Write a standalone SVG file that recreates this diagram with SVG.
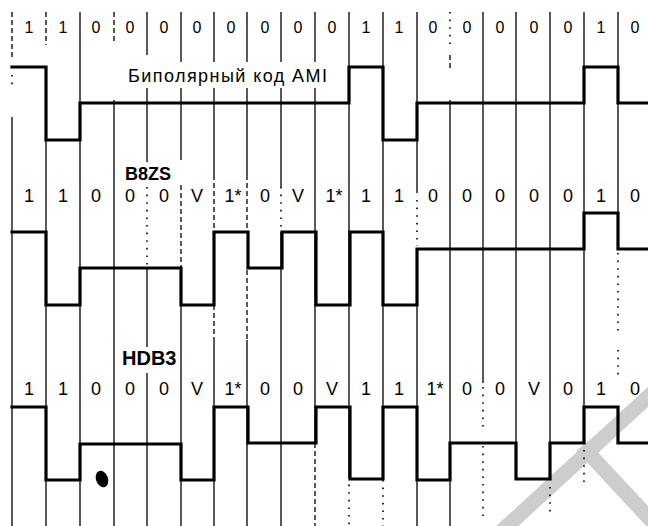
<svg xmlns="http://www.w3.org/2000/svg" width="648" height="526" viewBox="0 0 648 526">
<style>
.g{stroke:#000;stroke-width:1.3;fill:none}
.d{stroke:#000;stroke-width:1.3;fill:none;stroke-dasharray:5 3}
.o{stroke:#000;stroke-width:1.6;fill:none;stroke-dasharray:1.6 6}
.w{stroke:#000;stroke-width:3.2;fill:none;stroke-linejoin:miter;stroke-linecap:square}
.t{font-family:"Liberation Sans",Arial,sans-serif;fill:#000;text-anchor:middle}
.r0{font-size:16px}
.r1{font-size:18px}
.lab{font-family:"Liberation Sans",Arial,sans-serif;fill:#000}
</style>
<rect width="648" height="526" fill="#fff"/>
<g id="watermark" stroke="#cdcdcd" stroke-width="15" fill="none">
<line x1="492" y1="540" x2="662" y2="384"/>
<line x1="582" y1="446" x2="662" y2="532"/>
</g>
<g id="grid">
<path class="g" d="M12,117V526 M46,66V526 M80,12V526 M114,100V526 M147,12V55 M147,88V162 M147,268V347 M147,373V526 M181,12V62 M181,88V160 M181,268V526 M214,12V62 M214,88V180 M214,232V305 M214,340V526 M247,12V62 M247,88V180 M247,340V526 M281,12V62 M281,88V187 M281,232V526 M315,12V62 M315,88V443 M349,12V477 M383,12V480 M417,12V193 M417,249V526 M450,100V526 M483,12V383 M516,12V480 M550,12V480 M584,12V443 M618,12V249"/>
<path class="d" d="M12,12V60 M46,12V45 M114,12V43 M181,185V268 M214,183V228 M214,305V340 M247,183V232 M247,270V340 M315,443V526 M450,55V70"/>
<path class="o" d="M12,75V86 M147,187V265 M281,187V232 M417,200V246 M349,477V526 M383,480V526 M450,12V45 M483,387V427 M483,446V520 M550,487V512 M584,450V488 M618,253V333 M618,350V377"/>
</g>
<g id="bits" class="t">
<g class="r0">
<text x="29" y="33">1</text><text x="63" y="33">1</text><text x="96" y="33">0</text><text x="130" y="33">0</text><text x="164" y="33">0</text><text x="197" y="33">0</text><text x="231" y="33">0</text><text x="265" y="33">0</text><text x="298" y="33">0</text><text x="332" y="33">0</text><text x="366" y="33">1</text><text x="399" y="33">1</text><text x="433" y="33">0</text><text x="467" y="33">0</text><text x="500" y="33">0</text><text x="534" y="33">0</text><text x="568" y="33">0</text><text x="601" y="33">1</text><text x="635" y="33">0</text>
</g>
<g class="r1">
<text x="29" y="202">1</text><text x="63" y="202">1</text><text x="96" y="202">0</text><text x="130" y="202">0</text><text x="164" y="202">0</text><text x="197" y="202">V</text><text x="233" y="202">1*</text><text x="265" y="202">0</text><text x="298" y="202">V</text><text x="334" y="202">1*</text><text x="366" y="202">1</text><text x="399" y="202">1</text><text x="433" y="202">0</text><text x="467" y="202">0</text><text x="500" y="202">0</text><text x="534" y="202">0</text><text x="568" y="202">0</text><text x="601" y="202">1</text><text x="635" y="202">0</text>
</g>
<g class="r1">
<text x="29" y="395">1</text><text x="63" y="395">1</text><text x="96" y="395">0</text><text x="130" y="395">0</text><text x="164" y="395">0</text><text x="197" y="395">V</text><text x="233" y="395">1*</text><text x="265" y="395">0</text><text x="298" y="395">0</text><text x="332" y="395">V</text><text x="366" y="395">1</text><text x="399" y="395">1</text><text x="435" y="395">1*</text><text x="467" y="395">0</text><text x="500" y="395">0</text><text x="534" y="395">V</text><text x="568" y="395">0</text><text x="601" y="395">1</text><text x="635" y="395">0</text>
</g>
</g>
<g id="titles">
<text class="lab" x="128" y="82" font-size="18" textLength="199" lengthAdjust="spacing">Биполярный код AMI</text>
<text class="lab" x="125" y="180" font-size="18" font-weight="bold">B8ZS</text>
<text class="lab" x="122" y="365" font-size="20" font-weight="bold">HDB3</text>
</g>
<g id="waveforms">
<path id="ami" class="w" d="M12,67H46V140H80V103H349V67H383V140H417V103H584V67H618V103H648"/>
<path id="b8zs" class="w" d="M12,232H46V305H80V268H181V305H214V232H248V268H282V232H316V305H350V232H383V305H417V249H584V213H618V249H648"/>
<path id="hdb3" class="w" d="M12,407H46V480H80V444H181V480H214V407H248V443H316V407H350V479H383V407H417V480H450V443H516V479H550V443H584V407H618V443H648"/>
</g>
<ellipse id="blot" cx="102" cy="479" rx="6" ry="8.5" transform="rotate(-20 102 479)" fill="#000"/>
</svg>
